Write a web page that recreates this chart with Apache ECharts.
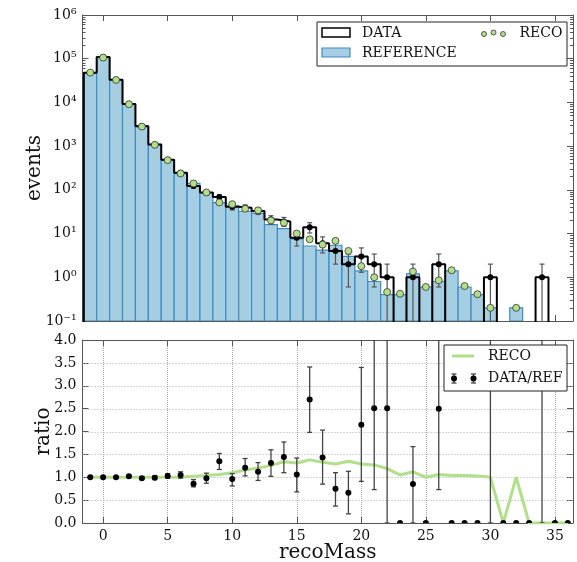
<!DOCTYPE html>
<html><head><meta charset="utf-8">
<script src="https://cdn.jsdelivr.net/npm/echarts@6/dist/echarts.min.js"></script>
<style>html,body{margin:0;padding:0;background:#fff}#c{width:577px;height:562px}</style>
</head><body><div id="c"></div>
<script>
// ---- data ----
const bins = [-1,0,1,2,3,4,5,6,7,8,9,10,11,12,13,14,15,16,17,18,19,20,21,22,23,24,25,26,27,28,29,30,31,32,33,34,35,36];
const dataCounts = [48000,110000,33000,9200,2850,1090,490,247,122,87,69,41,39,33,21,19,8,14,6,4,2,3,2,1,0,1,0,2,0,0,0,1,0,0,0,1,0,0];
const dataErr = [219,332,182,96,53,33,22,16,11,9.3,8.3,6.4,6.2,5.7,4.6,4.4,2.8,3.7,2.4,2.0,1.4,1.7,1.4,1.0,0,1.0,0,1.4,0,0,0,1.0,0,0,0,1.0,0,0];
const refCounts = [48000,108000,33000,9000,2900,1100,475,235,140,87,51,43,32,29,16,13,7.6,5.2,4.2,5.4,3,1.4,0.8,0.4,0.4,1.2,0.6,0.8,1.4,0.6,0.4,0.2,0,0.2,0,0,0,0];
const recoCounts = [48000,106000,32700,9100,2800,1070,478,237,140,87,51.5,47,37,34,20,17.6,10,7.4,5.6,6.8,4.0,1.8,1.0,0.46,0.42,1.35,0.6,0.85,1.45,0.63,0.41,0.2,null,0.2,null,null,null,null];
const recoRatio = [1.0,1.0,1.0,1.0,1.0,1.0,1.0,1.0,1.02,1.04,1.06,1.1,1.16,1.2,1.26,1.34,1.31,1.38,1.33,1.29,1.35,1.29,1.27,1.19,1.05,1.12,1.0,1.06,1.04,1.04,1.03,1.0,0,1.0,0,0,0,0];
const dataRatio = [1.0,1.0,1.0,1.02,0.98,0.99,1.03,1.05,0.86,0.98,1.35,0.96,1.21,1.12,1.31,1.44,1.06,2.7,1.43,0.75,0.66,2.15,2.51,2.51,0,0.85,0,2.5,0,0,0,null,0,0,0,null,0,0];
const ratioLo = [0.99,0.99,0.99,1.0,0.96,0.95,0.98,0.98,0.79,0.87,1.17,0.81,1.03,0.93,1.02,1.1,0.68,1.98,0.85,0.37,0.2,0.91,0.73,0,null,0,null,0.73,null,null,null,0,null,null,null,0,null,null];
const ratioHi = [1.01,1.01,1.01,1.04,1.0,1.03,1.08,1.12,0.95,1.09,1.52,1.08,1.41,1.32,1.6,1.77,1.42,3.41,2.03,1.1,1.13,3.4,5,5,null,1.67,null,5,null,null,null,10,null,null,null,10,null,null];
const xTicks = [0,5,10,15,20,25,30,35];
const logMajor = [0.1,1,10,100,1000,10000,100000,1000000];
const ratioGrid = [0.5,1,1.5,2,2.5,3,3.5];

// ---- styling ----
const FONT = 'DejaVu Serif';
const AX = '#555';
const X_MIN = -1.6, X_MAX = 36.4;
const Y_MIN = 0.1, Y_MAX = 1e6;
const FLOOR = 1e-4;
const logMinor = [];
for (let k = -1; k < 6; k++) for (let m = 2; m <= 9; m++) logMinor.push(+(m * Math.pow(10, k)).toPrecision(3));

const supMap = {'-':'\u207B','0':'\u2070','1':'\u00B9','2':'\u00B2','3':'\u00B3','4':'\u2074','5':'\u2075','6':'\u2076','7':'\u2077','8':'\u2078','9':'\u2079'};
function logLabel(v){ const e = Math.round(Math.log10(v)); return '10' + String(e).split('').map(c=>supMap[c]).join(''); }

const G0 = {left: 82.5, top: 15, width: 490.5, height: 306, outerBoundsMode:'none', containLabel:false};
const G1 = {left: 82.5, top: 340, width: 490.5, height: 183, outerBoundsMode:'none', containLabel:false};

function xAx(grid, pos, labels, split){
  return {type:'value', gridIndex:grid, position:pos, min:X_MIN, max:X_MAX,
    axisLine:{show:true, onZero:false, lineStyle:{color:AX, width:1}},
    axisTick:{show:true, inside:true, length:6, customValues:xTicks, lineStyle:{color:AX}},
    axisLabel:{show:labels, customValues:xTicks, fontFamily:FONT, fontSize:14, color:'#111', margin:6},
    splitLine:{show:split, lineStyle:{color:'#aaa', type:'dotted', width:1}},
    name: (grid===1 && pos==='bottom') ? 'recoMass' : '', nameLocation:'middle', nameGap:20, nameMoveOverlap:false,
    nameTextStyle:{fontFamily:FONT, fontSize:20, color:'#111', verticalAlign:'top'}};
}
function yLog(pos, ticks, len, labels, line, name){
  return {type:'log', logBase:10, gridIndex:0, position:pos, min:Y_MIN, max:Y_MAX,
    axisLine:{show:line, onZero:false, lineStyle:{color:AX, width:1}},
    axisTick:{show:true, inside:true, length:len, customValues:ticks, lineStyle:{color:AX}},
    axisLabel:{show:labels, customValues:logMajor, formatter:logLabel, fontFamily:FONT, fontSize:14, color:'#111', margin:6},
    splitLine:{show:false},
    name: name||'', nameLocation:'middle', nameGap:38, nameMoveOverlap:false,
    nameTextStyle:{fontFamily:FONT, fontSize:20, color:'#111'}};
}
function yRatio(pos, labels, name){
  return {type:'value', gridIndex:1, position:pos, min:0, max:4, interval:0.5,
    axisLine:{show:true, onZero:false, lineStyle:{color:AX, width:1}},
    axisTick:{show:true, inside:true, length:6, lineStyle:{color:AX}},
    axisLabel:{show:labels, formatter:v=>v.toFixed(1), fontFamily:FONT, fontSize:14, color:'#111', margin:6},
    splitLine:{show:false},
    name: name||'', nameLocation:'middle', nameGap:29, nameMoveOverlap:false,
    nameTextStyle:{fontFamily:FONT, fontSize:20, color:'#111'}};
}

// ---- series data built from the arrays ----
const refData = bins.map((b,i)=>[b, refCounts[i]]);
const stepPts = [[bins[0]-0.5, FLOOR]];
bins.forEach((b,i)=>{ const v = dataCounts[i] > 0 ? dataCounts[i] : FLOOR; stepPts.push([b-0.5, v], [b+0.5, v]); });
stepPts.push([bins[bins.length-1]+0.5, FLOOR]);
const dataPts = bins.map((b,i)=>[b, dataCounts[i], dataErr[i]]);
const recoPts = bins.map((b,i)=>[b, recoCounts[i]]).filter(p=>p[1]!=null);
const recoRatioPts = bins.map((b,i)=>[b, recoRatio[i]]);
const ratioPts = bins.map((b,i)=>[b, dataRatio[i]==null?'-':dataRatio[i], ratioLo[i]==null?'-':ratioLo[i], ratioHi[i]==null?'-':ratioHi[i]]);
const hGridPts = ratioGrid.map(v=>[0, v]);

const CAP = 2.5;
function errGroup(api, x, lo, hi, color, lw){
  const pLo = api.coord([x, lo]), pHi = api.coord([x, hi]);
  return [
    {type:'line', shape:{x1:pLo[0], y1:pLo[1], x2:pHi[0], y2:pHi[1]}, style:{stroke:color, lineWidth:lw}},
    {type:'line', shape:{x1:pLo[0]-CAP, y1:pLo[1], x2:pLo[0]+CAP, y2:pLo[1]}, style:{stroke:color, lineWidth:lw}},
    {type:'line', shape:{x1:pHi[0]-CAP, y1:pHi[1], x2:pHi[0]+CAP, y2:pHi[1]}, style:{stroke:color, lineWidth:lw}}
  ];
}

const option = {
  animation:false,
  backgroundColor:'#fff',
  grid:[G0, G1],
  xAxis:[xAx(0,'bottom',false,false), xAx(0,'top',false,false), xAx(1,'bottom',true,true), xAx(1,'top',false,false)],
  yAxis:[yLog('left', logMajor, 6, true, true, 'events'), yLog('left', logMinor, 3, false, false),
         yLog('right', logMajor, 6, false, true), yLog('right', logMinor, 3, false, false),
         yRatio('left', true, 'ratio'), yRatio('right', false)],
  series:[
    {type:'custom', xAxisIndex:0, yAxisIndex:0, clip:true, data:refData, z:2,
     renderItem:(params, api)=>{
       const x = api.value(0), v = api.value(1);
       if (!(v > 0)) return null;
       const p0 = api.coord([x-0.5, v]), p1 = api.coord([x+0.5, Y_MIN]);
       return {type:'rect', shape:{x:p0[0], y:p0[1], width:p1[0]-p0[0], height:p1[1]-p0[1]},
               style:{fill:'#a6cee3', stroke:'#3d8cc4', lineWidth:1.2}};
     }},
    {type:'line', xAxisIndex:0, yAxisIndex:0, data:stepPts, showSymbol:false, symbol:'none', clip:true, z:3,
     lineStyle:{color:'#000', width:2}},
    {type:'custom', xAxisIndex:0, yAxisIndex:0, clip:true, data:dataPts, z:4,
     renderItem:(params, api)=>{
       const x = api.value(0), v = api.value(1), e = api.value(2);
       if (!(v > 0)) return null;
       const lo = v - e > 0 ? v - e : FLOOR;
       const ch = errGroup(api, x, lo, v + e, '#555', 1.2);
       const p = api.coord([x, v]);
       ch.push({type:'circle', shape:{cx:p[0], cy:p[1], r:3}, style:{fill:'#000'}});
       return {type:'group', children:ch};
     }},
    {type:'scatter', xAxisIndex:0, yAxisIndex:0, data:recoPts, symbol:'circle', symbolSize:7, z:5,
     itemStyle:{color:'#b2df8a', borderColor:'#333', borderWidth:0.8, opacity:1}},
    // horizontal dotted grid lines of the ratio panel
    {type:'custom', xAxisIndex:2, yAxisIndex:4, clip:true, data:hGridPts, z:1, silent:true,
     renderItem:(params, api)=>{
       const v = api.value(1);
       const a = api.coord([X_MIN, v]), b = api.coord([X_MAX, v]);
       const y = Math.round(a[1]) + 0.5;
       return {type:'line', shape:{x1:a[0], y1:y, x2:b[0], y2:y}, style:{stroke:'#aaa', lineWidth:1, lineDash:[1,2]}};
     }},
    {type:'line', xAxisIndex:2, yAxisIndex:4, data:recoRatioPts, showSymbol:false, symbol:'none', clip:true, z:3,
     lineStyle:{color:'#b2df8a', width:3}},
    {type:'custom', xAxisIndex:2, yAxisIndex:4, clip:true, data:ratioPts, z:4,
     renderItem:(params, api)=>{
       const x = api.value(0), r = api.value(1), lo = api.value(2), hi = api.value(3);
       let ch = [];
       if (!isNaN(lo) && !isNaN(hi)) ch = errGroup(api, x, lo, hi, '#444', 1.3);
       if (!isNaN(r)) { const p = api.coord([x, r]); ch.push({type:'circle', shape:{cx:p[0], cy:p[1], r:3}, style:{fill:'#000'}}); }
       return {type:'group', children:ch};
     }}
  ],
  graphic:[
    // top legend
    {type:'rect', shape:{x:317, y:22, width:250, height:44}, style:{fill:'#fff', stroke:'#222', lineWidth:1}, z:10},
    {type:'rect', shape:{x:322, y:28, width:28, height:9}, style:{fill:'#fff', stroke:'#000', lineWidth:1.5}, z:11},
    {type:'text', x:362, y:33, style:{text:'DATA', font:'14px "DejaVu Serif"', fill:'#111', verticalAlign:'middle'}, z:11},
    {type:'rect', shape:{x:322, y:48, width:28, height:9}, style:{fill:'#a6cee3', stroke:'#3d8cc4', lineWidth:1.2}, z:11},
    {type:'text', x:362, y:53, style:{text:'REFERENCE', font:'14px "DejaVu Serif"', fill:'#111', verticalAlign:'middle'}, z:11},
    {type:'circle', shape:{cx:484, cy:34, r:2.5}, style:{fill:'#b2df8a', stroke:'#333', lineWidth:0.8}, z:11},
    {type:'circle', shape:{cx:493.5, cy:32.5, r:2.5}, style:{fill:'#b2df8a', stroke:'#333', lineWidth:0.8}, z:11},
    {type:'circle', shape:{cx:503, cy:34, r:2.5}, style:{fill:'#b2df8a', stroke:'#333', lineWidth:0.8}, z:11},
    {type:'text', x:519.5, y:33, style:{text:'RECO', font:'14px "DejaVu Serif"', fill:'#111', verticalAlign:'middle'}, z:11},
    // bottom legend
    {type:'rect', shape:{x:444, y:345, width:123, height:46}, style:{fill:'#fff', stroke:'#222', lineWidth:1}, z:10},
    {type:'line', shape:{x1:452, y1:356, x2:474, y2:356}, style:{stroke:'#b2df8a', lineWidth:3}, z:11},
    {type:'text', x:488, y:356, style:{text:'RECO', font:'14px "DejaVu Serif"', fill:'#111', verticalAlign:'middle'}, z:11},
    {type:'line', shape:{x1:454, y1:374, x2:454, y2:383}, style:{stroke:'#444', lineWidth:1.3}, z:11},
    {type:'line', shape:{x1:451.5, y1:374, x2:456.5, y2:374}, style:{stroke:'#444', lineWidth:1.3}, z:11},
    {type:'line', shape:{x1:451.5, y1:383, x2:456.5, y2:383}, style:{stroke:'#444', lineWidth:1.3}, z:11},
    {type:'line', shape:{x1:473.5, y1:374, x2:473.5, y2:383}, style:{stroke:'#444', lineWidth:1.3}, z:11},
    {type:'line', shape:{x1:471, y1:374, x2:476, y2:374}, style:{stroke:'#444', lineWidth:1.3}, z:11},
    {type:'line', shape:{x1:471, y1:383, x2:476, y2:383}, style:{stroke:'#444', lineWidth:1.3}, z:11},
    {type:'circle', shape:{cx:454, cy:378.5, r:3}, style:{fill:'#000'}, z:12},
    {type:'circle', shape:{cx:473.5, cy:378.5, r:3}, style:{fill:'#000'}, z:12},
    {type:'text', x:488, y:378.5, style:{text:'DATA/REF', font:'14px "DejaVu Serif"', fill:'#111', verticalAlign:'middle'}, z:11}
  ]
};
const chart = echarts.init(document.getElementById('c'), null, {renderer:'canvas'});
chart.setOption(option);
</script>
</body></html>
